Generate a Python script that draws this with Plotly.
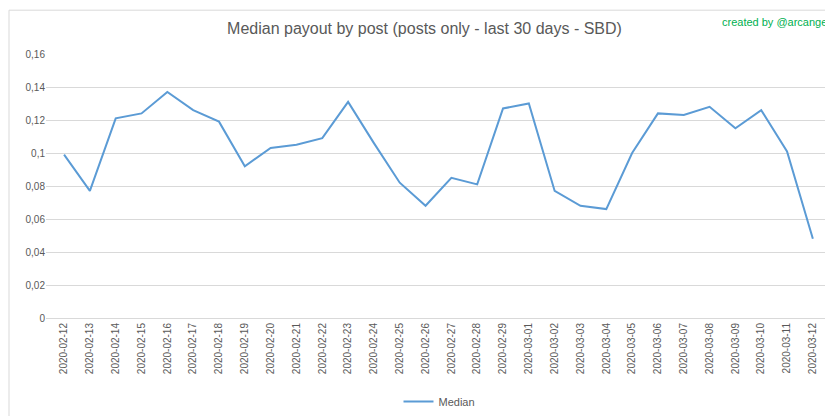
import plotly.graph_objects as go

dates = ['2020-02-12', '2020-02-13', '2020-02-14', '2020-02-15', '2020-02-16', '2020-02-17',
         '2020-02-18', '2020-02-19', '2020-02-20', '2020-02-21', '2020-02-22', '2020-02-23',
         '2020-02-24', '2020-02-25', '2020-02-26', '2020-02-27', '2020-02-28', '2020-02-29',
         '2020-03-01', '2020-03-02', '2020-03-03', '2020-03-04', '2020-03-05', '2020-03-06',
         '2020-03-07', '2020-03-08', '2020-03-09', '2020-03-10', '2020-03-11', '2020-03-12']
median = [0.099, 0.077, 0.121, 0.124, 0.137, 0.126, 0.119, 0.092, 0.103, 0.105, 0.109, 0.131,
          0.106, 0.082, 0.068, 0.085, 0.081, 0.127, 0.130, 0.077, 0.068, 0.066, 0.100, 0.124,
          0.123, 0.128, 0.115, 0.126, 0.101, 0.048]
ytick_vals = [0, 0.02, 0.04, 0.06, 0.08, 0.1, 0.12, 0.14, 0.16]
ytick_text = ['0', '0,02', '0,04', '0,06', '0,08', '0,1', '0,12', '0,14', '0,16']

fig = go.Figure(go.Scatter(x=dates, y=median, mode='lines', name='Median',
                           line=dict(color='#5B9BD5', width=2)))

fig.update_layout(
    width=833, height=416,
    margin=dict(l=38, r=8, t=46, b=104),
    paper_bgcolor='white', plot_bgcolor='white',
    font=dict(family='Liberation Sans, Arial', color='#595959', size=11),
    title=dict(text='Median payout by post (posts only - last 30 days - SBD)',
               x=0.5, xanchor='center', y=0.95, yanchor='middle',
               font=dict(size=16, color='#595959')),
    showlegend=True,
    legend=dict(orientation='h', x=0.5, xanchor='center', y=-0.316, yanchor='middle',
                font=dict(size=11, color='#595959')),
    xaxis=dict(type='category', range=[-0.7, 29.78], tickangle=-90, showgrid=False,
               showline=True, linecolor='#D9D9D9', ticks='', tickfont=dict(size=10)),
    yaxis=dict(range=[0, 0.16], tickvals=ytick_vals, ticktext=ytick_text,
               showgrid=True, gridcolor='#D9D9D9', zeroline=False, tickfont=dict(size=10)),
    shapes=[dict(type='rect', xref='paper', yref='paper', x0=-0.047, x1=1.008,
                 y0=-0.385, y1=1.166, line=dict(color='#D9D9D9', width=1))],
    annotations=[dict(text='created by @arcange', xref='paper', yref='paper',
                      x=0.995, y=1.12, xanchor='right', yanchor='middle', showarrow=False,
                      font=dict(size=11, color='#00B050'))]
)

fig.write_html("out.html")
